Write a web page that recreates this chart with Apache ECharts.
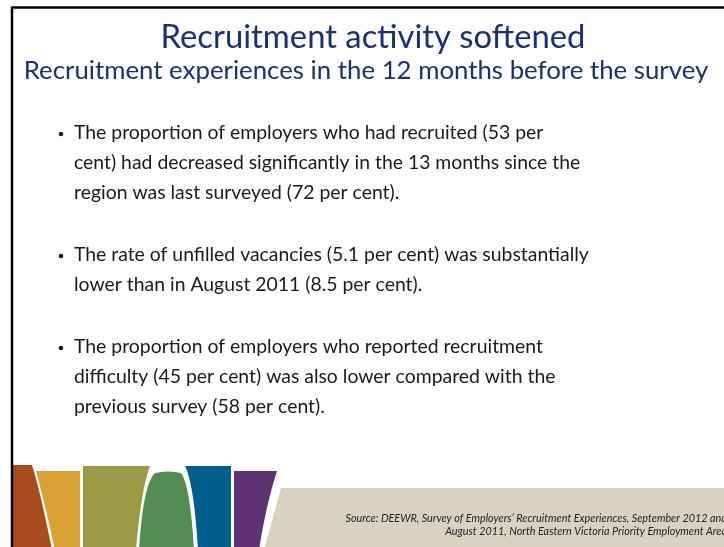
<!DOCTYPE html>
<html>
<head>
<meta charset="utf-8">
<script src="https://cdn.jsdelivr.net/npm/echarts@6/dist/echarts.min.js"></script>
<style>
    html, body {margin:0; padding:0; background:#fff}
    #main {width:724px; height:547px}
</style>
</head>
<body>
<div id="main"></div>
<script>
    // survey results (per cent): 2012 survey vs previous survey (August 2011)
    var measures = ['recruited', 'unfilled vacancies', 'recruitment difficulty'];
    var current = [53, 5.1, 45];
    var previous = [72, 8.5, 58];

    var title = 'Recruitment activity softened';
    var subtitle = 'Recruitment experiences in the 12 months before the survey';
    var source = [
        'Source: DEEWR, Survey of Employers\u2019 Recruitment Experiences, September 2012 and',
        'August 2011, North Eastern Victoria Priority Employment Area'
    ];

    // bullet lines, wrapped as on the slide
    var bullets = [
        [
            'The proportion of employers who had recruited (' + current[0] + ' per',
            'cent) had decreased significantly in the 13 months since the',
            'region was last surveyed (' + previous[0] + ' per cent).'
        ],
        [
            'The rate of unfilled vacancies (' + current[1] + ' per cent) was substantially',
            'lower than in August 2011 (' + previous[1] + ' per cent).'
        ],
        [
            'The proportion of employers who reported recruitment',
            'difficulty (' + current[2] + ' per cent) was also lower compared with the',
            'previous survey (' + previous[2] + ' per cent).'
        ]
    ];

    var navy = '#1c2f6e';
    var font = 'Lato';

    // quadratic curve -> points
    function quad(p0, c, p1, n) {
        var pts = [];
        for (var i = 0; i <= n; i++) {
            var t = i / n;
            pts.push([
                (1 - t) * (1 - t) * p0[0] + 2 * (1 - t) * t * c[0] + t * t * p1[0],
                (1 - t) * (1 - t) * p0[1] + 2 * (1 - t) * t * c[1] + t * t * p1[1]
            ]);
        }
        return pts;
    }

    // bottom decoration bands
    var bands = [
        {color: '#a84c20', pts: [[13, 465]].concat(quad([32, 465], [40, 490], [52, 550], 12), [[13, 550]])},
        {color: '#d9a133', pts: [[36, 471], [80, 471], [80, 550]].concat(quad([55, 550], [44, 500], [36, 471], 12))},
        {color: '#9d9a46', pts: [[83, 466]].concat(quad([150, 466], [141, 490], [136, 550], 12), [[83, 550]])},
        {color: '#548c53', pts: quad([155, 473], [168, 470], [181, 473], 4).concat(
            quad([181, 473], [190, 484], [194, 550], 12), quad([139, 550], [143, 484], [155, 473], 12))},
        {color: '#005d8e', pts: [[185, 466], [231, 466], [231, 550]].concat(quad([198, 550], [194, 484], [185, 466], 12))},
        {color: '#5b3372', pts: [[234, 471]].concat(quad([277, 471], [266, 505], [259, 550], 12), [[234, 550]])},
        {color: '#d8d3c1', pts: [[281, 488], [724, 488], [724, 550], [264, 550]]}
    ];

    var graphic = [];

    bands.forEach(function (b) {
        graphic.push({type: 'polygon', shape: {points: b.pts}, style: {fill: b.color}});
    });

    // slide frame
    graphic.push({type: 'line', shape: {x1: 12, y1: 7.5, x2: 724, y2: 7.5}, style: {stroke: '#000', lineWidth: 2.5}});
    graphic.push({type: 'line', shape: {x1: 12, y1: 6.5, x2: 12, y2: 547}, style: {stroke: '#000', lineWidth: 2.5}});

    graphic.push({
        type: 'text', x: 373, y: 37,
        style: {text: title, fill: navy, font: '32.8px ' + font, textAlign: 'center', textVerticalAlign: 'middle'}
    });
    graphic.push({
        type: 'text', x: 366, y: 71,
        style: {text: subtitle, fill: navy, font: '25.8px ' + font, textAlign: 'center', textVerticalAlign: 'middle'}
    });

    var starts = [133, 255, 347];
    bullets.forEach(function (lines, i) {
        graphic.push({type: 'circle', shape: {cx: 61, cy: starts[i] + 1, r: 2.3}, style: {fill: '#1a1a1a'}});
        lines.forEach(function (ln, j) {
            graphic.push({
                type: 'text', x: 74, y: starts[i] + j * 30,
                style: {text: ln, fill: '#1a1a1a', font: '19.4px ' + font, textVerticalAlign: 'middle'}
            });
        });
    });

    source.forEach(function (s, i) {
        graphic.push({
            type: 'text', x: 727, y: 519 + i * 13,
            style: {text: s, fill: '#222', font: 'italic 10.8px ' + font, textAlign: 'right', textVerticalAlign: 'middle'}
        });
    });

    var chart = echarts.init(document.getElementById('main'));
    chart.setOption({
        backgroundColor: '#fff',
        animation: false,
        graphic: graphic
    });
    window.addEventListener('resize', function () {
        chart.resize();
    });
</script>
</body>
</html>
